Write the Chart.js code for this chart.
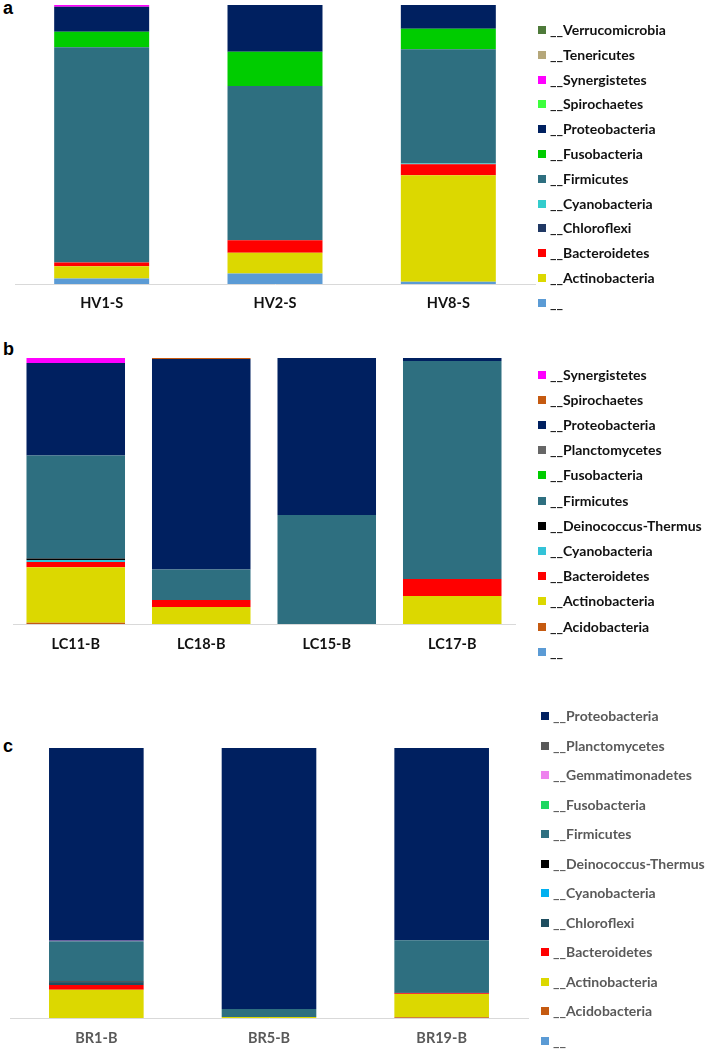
<!DOCTYPE html>
<html>
<head>
<meta charset="utf-8">
<script src="https://cdn.jsdelivr.net/npm/chart.js@4"></script>
<style>
  body { margin: 0; background: #fff; width: 708px; height: 1050px; position: relative; overflow: hidden; font-family: Lato, "Open Sans", sans-serif; }
  canvas { position: absolute; left: 0; }
  .tag { position: absolute; font: bold 18px "Liberation Sans", Arial, sans-serif; color: #000; }
  .legend { position: absolute; }
  .item { position: absolute; left: 0; white-space: nowrap; font-weight: bold; line-height: 16px; height: 16px; }
  .item i { position: absolute; left: 0; top: 4px; width: 8px; height: 8px; }
  .item span { position: absolute; left: 12px; top: 0; }
</style>
</head>
<body>
<div class="tag" style="left:3px;top:-2px">a</div>
<div class="tag" style="left:3px;top:339px">b</div>
<div class="tag" style="left:3px;top:736px">c</div>
<canvas id="chartA" width="540" height="320" style="top:0"></canvas>
<canvas id="chartB" width="540" height="360" style="top:320px"></canvas>
<canvas id="chartC" width="540" height="370" style="top:680px"></canvas>
<div id="legendA" class="legend"></div>
<div id="legendB" class="legend"></div>
<div id="legendC" class="legend"></div>
<script>
// ---- panel a (stack order bottom -> top) ----
const samplesA = ['HV1-S', 'HV2-S', 'HV8-S'];
const phylaA = ['__', '__Actinobacteria', '__Bacteroidetes', '__Chloroflexi', '__Cyanobacteria', '__Firmicutes',
  '__Fusobacteria', '__Proteobacteria', '__Spirochaetes', '__Synergistetes', '__Tenericutes', '__Verrucomicrobia'];
const colorsA = ['#5b9bd5', '#dcd800', '#ff0000', '#203864', '#33cccc', '#2e6f80',
  '#00cc00', '#002060', '#3dff3d', '#ff00ff', '#b5a77a', '#4e7a3a'];
const valuesA = [
  [2.0, 3.8, 0.8],
  [4.4, 7.4, 38.2],
  [1.3, 4.5, 3.9],
  [0, 0, 0.1],
  [0, 0, 0.2],
  [77.2, 55.3, 40.9],
  [5.5, 12.2, 7.4],
  [9.0, 16.8, 8.5],
  [0, 0, 0],
  [0.6, 0, 0],
  [0, 0, 0],
  [0, 0, 0]
];

// ---- panel b ----
const samplesB = ['LC11-B', 'LC18-B', 'LC15-B', 'LC17-B'];
const phylaB = ['__', '__Acidobacteria', '__Actinobacteria', '__Bacteroidetes', '__Cyanobacteria', '__Deinococcus-Thermus',
  '__Firmicutes', '__Fusobacteria', '__Planctomycetes', '__Proteobacteria', '__Spirochaetes', '__Synergistetes'];
const colorsB = ['#5b9bd5', '#c55a11', '#dcd800', '#ff0000', '#33c3d8', '#000000',
  '#2e6f80', '#00cc00', '#666666', '#002060', '#c55a11', '#ff00ff'];
const valuesB = [
  [0, 0, 0, 0],
  [0.5, 0, 0, 0],
  [20.8, 6.4, 0, 10.5],
  [2.0, 2.6, 0, 6.4],
  [0.8, 0, 0, 0],
  [0.5, 0, 0, 0],
  [38.7, 11.5, 41.0, 82.0],
  [0, 0, 0, 0],
  [0, 0, 0, 0],
  [34.8, 79.1, 59.0, 1.1],
  [0, 0.4, 0, 0],
  [1.9, 0, 0, 0]
];

// ---- panel c ----
const samplesC = ['BR1-B', 'BR5-B', 'BR19-B'];
const phylaC = ['__', '__Acidobacteria', '__Actinobacteria', '__Bacteroidetes', '__Chloroflexi', '__Cyanobacteria',
  '__Deinococcus-Thermus', '__Firmicutes', '__Fusobacteria', '__Gemmatimonadetes', '__Planctomycetes', '__Proteobacteria'];
const colorsC = ['#5b9bd5', '#c55a11', '#dcd800', '#ff0000', '#1f4e60', '#00b0f0',
  '#000000', '#2e6f80', '#1ed760', '#ee82ee', '#595959', '#002060'];
const valuesC = [
  [0, 0, 0],
  [0, 0, 0.3],
  [10.5, 0.4, 8.6],
  [1.7, 0, 0.3],
  [0.8, 0, 0.3],
  [0.1, 0, 0],
  [0.4, 0, 0],
  [14.9, 2.9, 19.3],
  [0, 0, 0],
  [0.2, 0, 0],
  [0, 0, 0],
  [71.4, 96.7, 71.2]
];

function makePanel(id, samples, phyla, colors, values, opt) {
  const datasets = phyla.map((name, i) => ({
    label: name,
    data: values[i],
    backgroundColor: colors[i],
    borderWidth: 0,
    barPercentage: opt.bar,
    categoryPercentage: 1
  }));
  new Chart(document.getElementById(id), {
    type: 'bar',
    data: { labels: samples, datasets: datasets },
    options: {
      responsive: false,
      animation: false,
      layout: { padding: opt.pad },
      plugins: { legend: { display: false }, tooltip: { enabled: false } },
      scales: {
        x: {
          stacked: true,
          grid: { display: false, drawTicks: false },
          border: { display: true, color: '#d9d9d9', width: 1 },
          ticks: { color: opt.text, padding: opt.tickPad, font: { family: 'Lato', weight: 'bold', size: 14.5 } },
          afterFit: s => { s.height = opt.axisH; }
        },
        y: { stacked: true, display: false, min: 0, max: 100 }
      }
    }
  });
}

function makeLegend(id, phyla, colors, opt) {
  const box = document.getElementById(id);
  box.style.left = opt.x + 'px';
  box.style.top = '0px';
  phyla.slice().reverse().forEach((name, k) => {
    const c = colors[phyla.length - 1 - k];
    const row = document.createElement('div');
    row.className = 'item';
    row.style.top = (opt.y0 + k * opt.step - 8) + 'px';
    row.style.fontSize = opt.size + 'px';
    row.style.color = opt.text;
    row.innerHTML = '<i style="background:' + c + '"></i><span>' + name + '</span>';
    box.appendChild(row);
  });
}

makePanel('chartA', samplesA, phylaA, colorsA, valuesA,
  { bar: 0.548, pad: { top: 5, left: 15, right: 5 }, axisH: 36, tickPad: 11, text: '#111' });
makePanel('chartB', samplesB, phylaB, colorsB, valuesB,
  { bar: 0.785, pad: { top: 38, left: 13, right: 25 }, axisH: 56, tickPad: 12, text: '#111' });
makePanel('chartC', samplesC, phylaC, colorsC, valuesC,
  { bar: 0.548, pad: { top: 68, left: 10, right: 12 }, axisH: 32, tickPad: 12, text: '#595959' });

makeLegend('legendA', phylaA, colorsA, { x: 538, y0: 30, step: 24.8, size: 14, text: '#111' });
makeLegend('legendB', phylaB, colorsB, { x: 538, y0: 374.5, step: 25.2, size: 14, text: '#111' });
makeLegend('legendC', phylaC, colorsC, { x: 541, y0: 716, step: 29.5, size: 14, text: '#595959' });
</script>
</body>
</html>
